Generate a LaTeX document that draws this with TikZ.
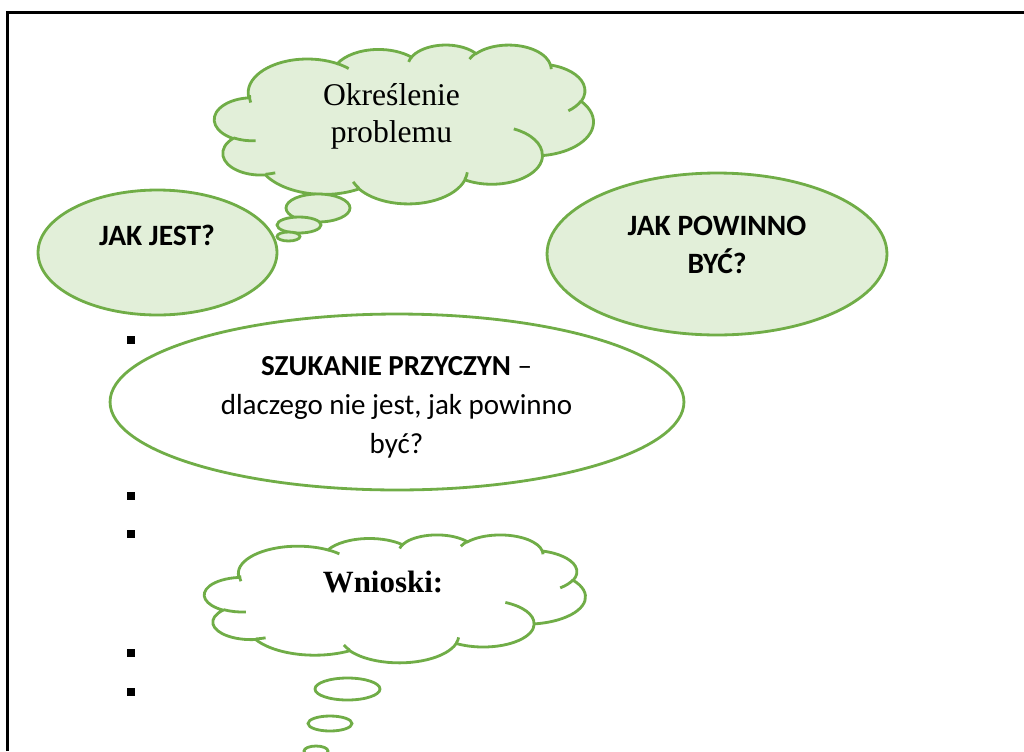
\documentclass[tikz,border=0pt]{standalone}
\usepackage{fontspec}
\setmainfont{Liberation Serif}
\newfontfamily\calibri{Carlito}
\usetikzlibrary{shapes.geometric}
\definecolor{leafline}{HTML}{70AD47}
\definecolor{leaffill}{HTML}{E2EFD9}
\tikzstyle{greenline} = [draw=leafline, line width=1.6pt]
\tikzstyle{oval} = [greenline, ellipse, inner sep=0pt]
\tikzstyle{captext} = [font=\calibri\fontsize{16.5}{22}\selectfont, align=center, inner sep=0pt]
\tikzstyle{boldcap} = [captext, font=\calibri\bfseries\fontsize{16.8}{21.6}\selectfont]
\tikzstyle{sertext} = [font=\fontsize{18}{21}\selectfont, align=center, inner sep=0pt]

% cloud outline and inner hooks, box of 10800 x 10800 units
\newcommand*{\cloudoutline}{}
\newcommand*{\cloudhooks}{}
\foreach \rw/\rh/\st/\sw in {1688.25/2297.5/-190.4875/123.7805,
    1333.25/1816.75/-144.1024/89.9452, 1091.25/1486.25/-145.8079/99.7230,
    1214.25/1648.75/-130.9861/117.2417, 1333.25/1818.25/-78.7089/109.0269,
    1693.75/2305/-46.2673/130.2690, 1446.25/1966.75/0.6250/114.0333,
    1688/2303.75/22.4516/115.1726, 1930/2635.75/66.2426/75.7110,
    1090/1479.5/-274.9421/146.7356, 1086.25/1486.25/-246.8285/152.5189}{%
  \pgfmathsetmacro{\cAng}{atan2(\rw*sin(\st),\rh*cos(\st))}%
  \pgfmathsetmacro{\cEnd}{atan2(\rw*sin(\st+\sw),\rh*cos(\st+\sw))}%
  \pgfmathsetmacro{\cDel}{mod(\cEnd-\cAng+720,360)}%
  \xdef\cloudoutline{\cloudoutline arc[x radius=\rw, y radius=\rh, start angle=\cAng, delta angle=\cDel]}%
}
\foreach \hx/\hy/\rw/\rh/\st/\sw in {1173.25/6544.25/1086.25/1486.25/86.7420/26.4295,
    1732/8724.75/1090/1479.5/73.6105/11.4475, 4119.5/9772.5/1688/2303.75/137.6242/14.0811,
    7206.75/8687.75/1688/2303.75/6.4533/15.9984, 8532.25/5738.5/1446.25/1966.75/-70.2924/70.9174,
    10449.5/3838.5/1333.25/1818.25/30.3180/27.7515, 9581/1356.5/1214.25/1648.75/-13.7443/14.8589,
    7269.5/988/1214.25/1648.75/-149.1815/18.1954, 5535.25/1180/1091.25/1486.25/-163.4943/17.6864,
    3500/1298/1688.25/2297.5/-66.7070/12.3194, 1031.75/3947.25/1688.25/2297.5/164.7133/16.7860}{%
  \pgfmathsetmacro{\cAng}{atan2(\rw*sin(\st),\rh*cos(\st))}%
  \pgfmathsetmacro{\cEnd}{atan2(\rw*sin(\st+\sw),\rh*cos(\st+\sw))}%
  \pgfmathsetmacro{\cDel}{mod(\cEnd-\cAng+720,360)}%
  \xdef\cloudhooks{\cloudhooks (\hx,\hy) arc[x radius=\rw, y radius=\rh, start angle=\cAng, delta angle=\cDel]}%
}
\newcommand{\wordcloud}[5]{%
  \begin{scope}[shift={(#1,#2)}, xscale=#3/10800, yscale=#4/10800]
    \filldraw[greenline, fill=#5] (975,3592.5) \cloudoutline -- cycle;
    \draw[greenline] \cloudhooks;
  \end{scope}}

\begin{document}
\begin{tikzpicture}[x=0.02cm, y=-0.02cm]
\useasboundingbox (0,0) rectangle (1024,751);
\draw[line width=1.2pt] (7.5,751) -- (7.5,12.5) -- (1024,12.5);

% ovals
\node[oval, fill=leaffill, minimum width=4.78cm, minimum height=2.5cm] (jest) at (157.5,252.5) {};
\node[oval, fill=leaffill, minimum width=6.8cm, minimum height=3.24cm] (powinno) at (717,254) {};
\node[oval, fill=white, minimum width=11.48cm, minimum height=3.52cm] (przyczyny) at (397,402) {};

% clouds with their bubbles
\wordcloud{214.5}{44.5}{379}{159}{leaffill}
\foreach \bx/\by/\brx/\bry in {318/208/32/14, 299/225/22/8, 288.5/236.5/11.5/4.5}
  \filldraw[greenline, fill=leaffill] (\bx,\by) ellipse [x radius=\brx, y radius=\bry];
\wordcloud{204.5}{534.5}{381}{128}{white}
\foreach \bx/\by/\brx/\bry in {347.5/689/32.5/11, 330/723.5/22/7.5, 316/751/12/5}
  \filldraw[greenline, fill=white] (\bx,\by) ellipse [x radius=\brx, y radius=\bry];

% bullets
\foreach \by in {340,496,533.5,653,691.5}
  \fill (127,\by-4) rectangle (135,\by+4);

% texts (base = last line)
\node[sertext, anchor=base] (problem) at (391.5,142) {Określenie\\problemu};
\node[boldcap, anchor=base] (jestText) at (157,245) {JAK JEST?};
\node[boldcap, anchor=base] (powinnoText) at (717,273) {JAK POWINNO\\BYĆ?};
\node[captext, anchor=base] (przyczynyText) at (396.5,453) {\textbf{SZUKANIE PRZYCZYN} –\\dlaczego nie jest, jak powinno\\być?};
\node[sertext, anchor=base, font=\bfseries\fontsize{17.6}{21}\selectfont] (wnioski) at (383,592) {Wnioski:};
\end{tikzpicture}
\end{document}
